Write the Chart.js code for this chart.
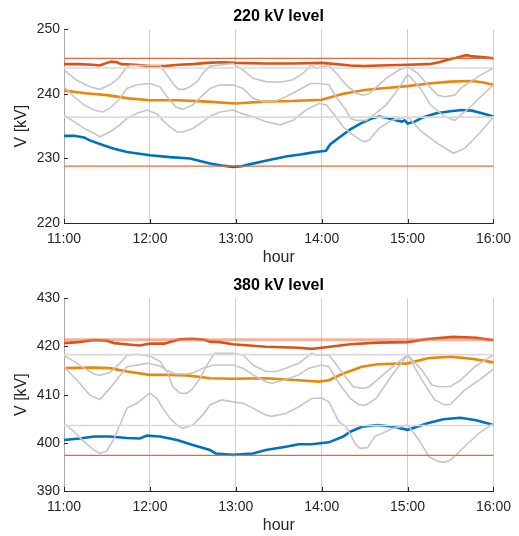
<!DOCTYPE html>
<html><head><meta charset="utf-8">
<script src="https://cdn.jsdelivr.net/npm/chart.js@4/dist/chart.umd.min.js"></script>
<style>
body{margin:0;background:#fff;}
#wrap{position:relative;width:519px;height:536px;font-family:"Liberation Sans",Arial,sans-serif;}
canvas{position:absolute;left:0;}
.ttl{position:absolute;left:63px;width:431px;text-align:center;font-weight:bold;font-size:16px;line-height:16px;color:#000;}
</style></head><body>
<div id="wrap">
<canvas id="c1" width="519" height="268" style="top:0"></canvas>
<canvas id="c2" width="519" height="268" style="top:268px"></canvas>
<div class="ttl" style="top:8px">220 kV level</div>
<div class="ttl" style="top:277px">380 kV level</div>
</div>
<script>
// ---- tick labels ----
const HOURS = ['11:00','12:00','13:00','14:00','15:00','16:00'];
// times are minutes after 11:00

// ---- 220 kV ----
const tRed220 = [0,10,20,25,30,33,37,40,50,60,70,80,90,100,110,120,140,160,180,190,200,210,220,240,255,262,268,274,281,285,292,300];
const vRed220 = [244.6,244.6,244.5,244.4,244.8,245.0,244.9,244.6,244.5,244.3,244.3,244.5,244.6,244.8,244.9,244.8,244.7,244.7,244.8,244.6,244.4,244.3,244.4,244.5,244.6,244.9,245.3,245.6,246.0,245.8,245.7,245.5];
const tOr220 = [0,15,30,45,60,80,100,120,140,160,180,185,195,200,210,225,240,255,270,285,292,300];
const vOr220 = [240.5,240.1,239.8,239.3,239.0,239.0,238.8,238.5,238.8,238.9,239.1,239.4,240.0,240.2,240.6,240.9,241.2,241.6,241.9,242.0,241.8,241.4];
const tBl220 = [0,7,14,18,28,35,44,60,74,88,95,102,110,118,124,128,140,155,165,173,180,183,186,192,200,207,215,220,225,232,236,238,240,245,250,260,270,278,285,292,300];
const vBl220 = [233.5,233.5,233.25,232.8,232.0,231.5,231.0,230.5,230.2,230.0,229.6,229.2,228.9,228.7,228.8,229.0,229.6,230.3,230.6,230.9,231.1,231.2,232.2,233.2,234.5,235.4,236.2,236.5,236.3,235.9,235.7,235.9,235.4,235.7,236.3,237.0,237.3,237.5,237.4,237.0,236.5];
const tA220 = [0,9,18,25,32,38,43,46,67,72,76,80,84,88,93,97,102,118,125,132,141,151,160,167,173,176,180,185,191,197,204,209,213,218,225,234,240,247,254,261,266,273,277,284,291,300];
const vA220 = [243.7,242.1,241.1,240.7,241.4,242.4,243.9,244.4,244.4,242.9,241.6,240.7,240.7,241.1,241.9,243.2,244.3,244.7,243.7,242.4,241.9,241.8,242.2,243.2,244.5,244.0,244.2,244.4,243.0,241.4,240.1,239.8,240.0,241.0,242.4,243.7,244.2,243.2,241.4,239.8,239.55,239.8,240.85,241.9,242.9,244.0];
const tB220 = [0,7,14,21,27,32,38,44,51,60,67,72,78,83,90,97,102,109,118,125,132,139,148,155,164,172,178,185,190,197,200,204,211,218,225,232,240,242,249,256,266,273,277,284,291,300];
const vB220 = [241.1,239.55,238.3,237.5,237.2,237.75,239.0,240.85,241.4,241.6,241.1,239.55,238.0,237.6,238.3,239.8,240.85,241.4,241.4,240.85,239.3,238.8,238.9,239.55,240.6,241.6,241.6,241.4,239.55,237.5,236.2,235.9,235.9,237.0,238.3,240.3,243.0,242.6,240.85,238.3,236.45,235.9,236.7,238.0,239.55,241.4];
const tC220 = [0,7,14,21,25,32,39,44,51,58,65,69,74,79,83,90,97,102,109,118,125,132,141,151,160,169,178,183,188,195,200,202,209,213,220,229,240,250,261,272,280,291,300];
const vC220 = [236.7,235.7,234.65,233.9,233.35,234.1,235.2,236.2,237.0,237.5,236.9,235.9,234.9,234.1,234.1,234.65,235.7,236.5,237.2,237.5,236.9,236.45,235.7,235.2,235.9,237.5,238.5,238.3,237.0,234.9,233.9,233.6,232.6,232.8,234.65,235.9,236.45,234.1,232.3,230.8,231.55,234.1,236.45];
const grey220 = [244.0, 236.4];
const lim220 = [245.5, 228.8];
const yTicks220 = [220, 250];

// ---- 380 kV ----
const tRed380 = [0,10,21,30,35,45,53,60,70,81,90,98,102,109,118,141,164,173,180,190,200,219,240,254,272,288,300];
const vRed380 = [420.7,420.9,421.35,421.2,420.7,420.4,420.2,420.6,420.6,421.5,421.6,421.4,421.0,420.9,420.45,419.95,419.75,419.5,419.75,420.1,420.45,420.8,420.9,421.55,422.0,421.8,421.3];
const tOr380 = [0,21,32,44,60,72,86,102,118,141,164,178,185,195,200,208,219,240,254,270,286,300];
const vOr380 = [415.5,415.6,415.5,414.8,414.1,414.1,414.0,413.4,413.3,413.4,413.0,412.7,413.0,414.4,414.9,415.8,416.3,416.5,417.55,417.9,417.4,416.7];
const tBl380 = [0,11,21,32,44,53,58,67,79,90,102,106,118,132,141,155,164,173,185,195,200,208,219,230,240,254,265,277,288,300];
const vBl380 = [400.6,400.9,401.3,401.3,401.0,400.9,401.5,401.3,400.6,399.55,398.5,397.8,397.5,397.8,398.5,399.2,399.7,399.7,400.1,401.3,402.3,403.35,403.7,403.35,402.7,404.05,404.9,405.2,404.7,403.7];
const tA380 = [0,7,14,21,25,32,39,44,51,60,67,72,76,81,86,90,95,100,105,118,125,132,141,148,155,164,173,176,185,195,202,209,213,224,234,240,250,257,262,270,277,287,300];
const vA380 = [418.1,416.9,415.5,414.3,414.0,414.6,416.5,418.2,418.4,418.0,416.9,414.8,411.7,410.3,410.3,411.3,413.4,416.2,418.6,418.6,418.25,416.15,414.8,414.8,415.5,416.5,418.6,418.2,418.25,414.4,411.65,411.3,411.6,414.4,416.85,418.25,415.1,412.0,411.65,411.7,413.0,415.8,418.25];
const tB380 = [0,9,18,25,32,44,58,67,72,78,85,90,97,105,118,125,132,141,145,153,164,171,180,185,192,200,206,211,218,230,240,250,259,266,270,280,290,300];
const vB380 = [415.8,413.0,409.9,409.0,411.3,415.8,416.5,416.0,415.0,414.3,414.3,414.5,415.5,416.15,416.15,415.5,414.1,412.7,412.35,413.0,414.1,415.5,416.15,415.8,412.35,409.2,407.85,407.85,409.2,414.4,418.25,413.0,408.9,407.85,408.0,411.0,413.0,415.3];
const tC380 = [0,7,14,21,25,30,35,39,44,51,58,60,65,69,74,79,83,90,97,102,110,118,125,132,141,145,155,164,173,180,185,192,197,204,207,212,217,230,240,248,255,262,266,270,281,290,300];
const vC380 = [404.05,402.3,400.25,398.5,397.8,398.3,400.9,403.7,407.2,408.2,409.9,410.3,409.2,407.2,405.1,403.7,403.0,403.7,405.8,407.85,408.9,408.5,408.2,407.2,405.8,405.5,406.1,407.5,409.2,409.3,408.5,404.4,403.35,399.55,398.85,399.0,401.3,403.0,403.7,400.6,397.1,396.1,396.0,396.4,399.55,402.0,404.05];
const grey380 = [418.3, 403.6];
const lim380 = [421.4, 397.4];
const yTicks380 = [390, 430];

Chart.defaults.font.family = '"Liberation Sans", Arial, sans-serif';

function pts(t, v){ return t.map((x, i) => ({x: x, y: v[i]})); }
function flat(v){ return [{x: 0, y: v}, {x: 300, y: v}]; }

const inwardTicks = {
  id: 'inwardTicks',
  afterDraw(chart){
    const {ctx, chartArea: a, scales: {x, y}} = chart;
    ctx.save();
    ctx.strokeStyle = '#262626';
    ctx.lineWidth = 1;
    ctx.beginPath();
    y.ticks.forEach(t => { const p = Math.round(y.getPixelForValue(t.value)) + 0.5; ctx.moveTo(a.left, p); ctx.lineTo(a.left + 4, p); });
    x.ticks.forEach(t => { const p = Math.round(x.getPixelForValue(t.value)) + 0.5; ctx.moveTo(p, a.bottom); ctx.lineTo(p, a.bottom - 4); });
    ctx.stroke();
    ctx.restore();
  }
};

function line(data, color, width, order){
  return {data: data, borderColor: color, borderWidth: width, order: order, pointRadius: 0, fill: false, tension: 0};
}

function makeChart(id, s, padTop){
  const datasets = [
    line(flat(s.lim[0]), s.upperLimColor, s.upperLimWidth, 0),
    line(flat(s.lim[1]), '#E8683A', 1.2, 0),
    line(flat(s.grey[0]), '#dadada', 1.6, 1),
    line(flat(s.grey[1]), '#dadada', 1.6, 1),
    line(pts(s.tA, s.vA), '#c6c6c6', 1.6, 1),
    line(pts(s.tB, s.vB), '#c6c6c6', 1.6, 1),
    line(pts(s.tC, s.vC), '#c6c6c6', 1.6, 1),
    line(pts(s.tRed, s.vRed), '#D95319', 2.6, 2),
    line(pts(s.tOr, s.vOr), '#E8870A', 2.6, 2),
    line(pts(s.tBl, s.vBl), '#0072BD', 2.6, 2)
  ];
  return new Chart(document.getElementById(id), {
    type: 'line',
    data: {datasets: datasets},
    plugins: [inwardTicks],
    options: {
      responsive: false, animation: false, devicePixelRatio: 1,
      layout: {padding: {top: padTop, right: 25, bottom: 0, left: 0}},
      plugins: {legend: {display: false}, tooltip: {enabled: false}, title: {display: false}},
      scales: {
        x: {
          type: 'linear', min: 0, max: 300,
          ticks: {stepSize: 60, autoSkip: false, maxRotation: 0, padding: 8, color: '#262626', font: {size: 14},
                  callback: v => HOURS[Math.round(v / 60)]},
          grid: {display: true, color: '#d0d0d0', lineWidth: 1, drawTicks: false},
          border: {display: true, color: '#262626', width: 1},
          title: {display: true, text: 'hour', color: '#262626', font: {size: 16}, padding: {top: 0, bottom: 0.5}},
          afterFit(sc){ sc.height = 45; }
        },
        y: {
          type: 'linear', min: s.yr[0], max: s.yr[1],
          ticks: {stepSize: 10, padding: 4, color: '#262626', font: {size: 14}},
          grid: {display: false, drawTicks: false},
          border: {display: true, color: '#a8a8a8', width: 1},
          title: {display: true, text: 'V [kV]', color: '#262626', font: {size: 16}, padding: {top: 12, bottom: 0}},
          afterFit(sc){ sc.width = 64; }
        }
      }
    }
  });
}

makeChart('c1', {
  tRed: tRed220, vRed: vRed220, tOr: tOr220, vOr: vOr220, tBl: tBl220, vBl: vBl220,
  tA: tA220, vA: vA220, tB: tB220, vB: vB220, tC: tC220, vC: vC220,
  grey: grey220, lim: lim220, yr: yTicks220, upperLimColor: '#E8683A', upperLimWidth: 1.2
}, 29.3);

makeChart('c2', {
  tRed: tRed380, vRed: vRed380, tOr: tOr380, vOr: vOr380, tBl: tBl380, vBl: vBl380,
  tA: tA380, vA: vA380, tB: tB380, vB: vB380, tC: tC380, vC: vC380,
  grey: grey380, lim: lim380, yr: yTicks380, upperLimColor: 'rgba(235,115,75,0.55)', upperLimWidth: 3
}, 30.3);
</script>
</body></html>
